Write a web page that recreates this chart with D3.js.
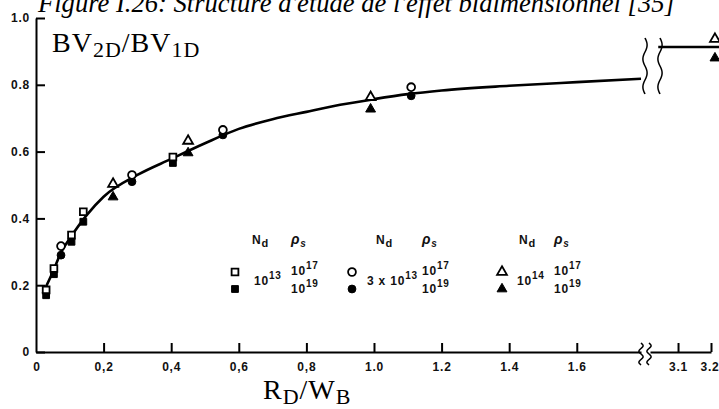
<!DOCTYPE html>
<html>
<head>
<meta charset="utf-8">
<script src="https://cdn.jsdelivr.net/npm/d3@7"></script>
<style>
	body { margin: 0; background: #fff; }
	svg { display: block; }
	.lbl { font-family: "Liberation Sans", Arial, sans-serif; font-weight: bold; font-size: 12px; letter-spacing: 0.8px; fill: #111; }
	.serif { font-family: "Liberation Serif", "Times New Roman", serif; fill: #000; }
</style>
</head>
<body>
<svg id="chart" width="719" height="409"></svg>
<script>
var titleText = "Figure I.26: Structure d'étude de l'effet bidimensionnel [35]";

var yTicks = [0, 0.2, 0.4, 0.6, 0.8, 1.0];
var yTickLabels = ['0', '0.2', '0.4', '0.6', '0.8', '1.0'];
var xTicksLeft = [0.2, 0.4, 0.6, 0.8, 1.0, 1.2, 1.4, 1.6];
var xTickLabelsLeft = ['0,2', '0,4', '0,6', '0,8', '1.0', '1.2', '1.4', '1.6'];
var xTicksRight = [3.1, 3.2];
var xTickLabelsRight = ['3.1', '3.2'];

// smooth curve drawn through the points, up to the axis break
var curveX = [0.02, 0.05, 0.075, 0.1, 0.15, 0.2, 0.3, 0.4, 0.5, 0.6, 0.7, 0.8, 0.9, 1.0, 1.1, 1.2, 1.4, 1.6, 1.79];
var curveY = [0.175, 0.24, 0.3, 0.34, 0.41, 0.465, 0.53, 0.578, 0.625, 0.668, 0.697, 0.719, 0.74, 0.757, 0.772, 0.783, 0.797, 0.808, 0.818];
// level after the break
var plateauX = [3.04, 3.25];
var plateauY = [0.913, 0.913];

// Nd = 1e13 (squares)
var sqX = [0.03, 0.053, 0.105, 0.14, 0.405];
var sqOpenY = [0.186, 0.25, 0.35, 0.42, 0.584];
var sqFilledY = [0.17, 0.233, 0.33, 0.39, 0.566];
// Nd = 3e13 (circles)
var circX = [0.074, 0.284, 0.553, 1.11];
var circOpenY = [0.317, 0.53, 0.665, 0.793];
var circFilledY = [0.29, 0.51, 0.65, 0.767];
// Nd = 1e14 (triangles)
var triX = [0.228, 0.45, 0.99, 3.212];
var triOpenY = [0.503, 0.632, 0.763, 0.937];
var triFilledY = [0.464, 0.596, 0.727, 0.88];

// legend
var legendNdCoef = ['', '3 x ', ''];
var legendNdExp = ['13', '13', '14'];
var legendRhoExp = ['17', '19'];

var svg = d3.select('#chart');

var y = d3.scaleLinear().domain([0, 1]).range([352, 18]);
var xLeft = d3.scaleLinear().domain([0, 1.79]).range([36, 641]);
var xRight = d3.scaleLinear().domain([3.015, 3.2]).range([650, 711]);
var x = function(v) { return v < 2 ? xLeft(v) : xRight(v); };

// title (cut at top of the page)
var title = svg.append('text')
	.attr('class', 'serif')
	.attr('x', 38).attr('y', 12)
	.style('font-style', 'italic')
	.style('font-size', '24px')
	.text(titleText);
var tw = title.node().getComputedTextLength();
title.style('font-size', (24 * 637 / tw) + 'px');

function styleAxis(g) {
	g.select('.domain').attr('stroke', '#000').attr('stroke-width', 2);
	g.selectAll('.tick line').attr('stroke', '#000').attr('stroke-width', 2);
	g.selectAll('.tick text').attr('class', 'lbl');
	g.attr('font-family', null).attr('font-size', null);
}

var yAxis = d3.axisLeft(y)
	.tickValues(yTicks)
	.tickFormat(function(d, i) { return yTickLabels[i]; })
	.tickSizeInner(-9).tickSizeOuter(0).tickPadding(6);
svg.append('g').attr('transform', 'translate(36,0)').call(yAxis).call(styleAxis);

var xAxisL = d3.axisBottom(xLeft)
	.tickValues(xTicksLeft)
	.tickFormat(function(d, i) { return xTickLabelsLeft[i]; })
	.tickSizeInner(-9).tickSizeOuter(0).tickPadding(10);
svg.append('g').attr('transform', 'translate(0,352)').call(xAxisL).call(styleAxis);

var xAxisR = d3.axisBottom(xRight)
	.tickValues(xTicksRight)
	.tickFormat(function(d, i) { return xTickLabelsRight[i]; })
	.tickSizeInner(-9).tickSizeOuter(0).tickPadding(10);
var gR = svg.append('g').attr('transform', 'translate(0,352)').call(xAxisR).call(styleAxis);
// last label sits against the right edge
gR.selectAll('.tick text').filter(function(d) { return d === 3.2; })
	.attr('text-anchor', 'end').attr('dx', 8);

svg.append('text').attr('class', 'lbl')
	.attr('x', xLeft(0) + 1).attr('y', 371).attr('text-anchor', 'middle').text('0');

// break marks
function wavy(x0, y0, y1) {
	var pts = d3.range(0, 1.0001, 1 / 24).map(function(t) {
		return [x0 + 2.2 * Math.sin(t * Math.PI * 4), y0 + (y1 - y0) * t];
	});
	return d3.line().curve(d3.curveBasis)(pts);
}
[[645, 38, 94], [660, 38, 94], [641, 343, 365], [649, 343, 365]].forEach(function(b) {
	svg.append('path').attr('d', wavy(b[0], b[1], b[2]))
		.attr('fill', 'none').attr('stroke', '#000').attr('stroke-width', 1.5);
});

// curve
var line = d3.line().curve(d3.curveMonotoneX)
	.x(function(d) { return x(d[0]); })
	.y(function(d) { return y(d[1]); });
svg.append('path')
	.attr('d', line(d3.zip(curveX, curveY)))
	.attr('fill', 'none').attr('stroke', '#000').attr('stroke-width', 2.6);
svg.append('path')
	.attr('d', line(d3.zip(plateauX, plateauY)))
	.attr('fill', 'none').attr('stroke', '#000').attr('stroke-width', 2.4);

// points
var shapes = {
	square: d3.symbol().type(d3.symbolSquare).size(46),
	circle: d3.symbol().type(d3.symbolCircle).size(48),
	triangle: d3.symbol().type(d3.symbolTriangle).size(42)
};

function drawPoints(xs, ys, shape, filled) {
	svg.append('g').selectAll('path')
		.data(d3.zip(xs, ys))
		.join('path')
		.attr('d', shapes[shape])
		.attr('transform', function(d) { return 'translate(' + x(d[0]) + ',' + y(d[1]) + ')'; })
		.attr('fill', filled ? '#000' : '#fff')
		.attr('stroke', '#000')
		.attr('stroke-width', filled ? 1 : 1.8);
}
drawPoints(sqX, sqFilledY, 'square', true);
drawPoints(sqX, sqOpenY, 'square', false);
drawPoints(circX, circFilledY, 'circle', true);
drawPoints(circX, circOpenY, 'circle', false);
drawPoints(triX, triFilledY, 'triangle', true);
drawPoints(triX, triOpenY, 'triangle', false);

// legend
var legShapes = ['square', 'circle', 'triangle'];
var legMarkerX = [235, 352, 502];
var legNdHeadX = [252, 376, 519];
var legNdValX = [254, 367, 517];
var legRhoX = [291, 422, 554];

legShapes.forEach(function(s, i) {
	[0, 1].forEach(function(r) {
		svg.append('path').attr('d', shapes[s])
			.attr('transform', 'translate(' + legMarkerX[i] + ',' + (272 + r * 17) + ')')
			.attr('fill', r ? '#000' : '#fff').attr('stroke', '#000').attr('stroke-width', r ? 1 : 1.8);
	});

	var h = svg.append('text').attr('class', 'lbl').attr('x', legNdHeadX[i]).attr('y', 244);
	h.append('tspan').text('N');
	h.append('tspan').attr('dy', 3).style('font-size', '11px').text('d');

	var p = svg.append('text').attr('class', 'lbl').attr('x', legRhoX[i]).attr('y', 244)
		.style('font-style', 'italic');
	p.append('tspan').style('font-size', '14px').text('ρ');
	p.append('tspan').attr('dy', 3).style('font-size', '10px').text('s');

	var n = svg.append('text').attr('class', 'lbl').attr('x', legNdValX[i]).attr('y', 285);
	n.append('tspan').text(legendNdCoef[i] + '10');
	n.append('tspan').attr('dy', -6).style('font-size', '10px').text(legendNdExp[i]);

	legendRhoExp.forEach(function(e, r) {
		var t = svg.append('text').attr('class', 'lbl').attr('x', legRhoX[i]).attr('y', 275 + r * 18);
		t.append('tspan').text('10');
		t.append('tspan').attr('dy', -6).style('font-size', '10px').text(e);
	});
});

// axis titles
function axisTitle(xPos, yPos, a, aSub, b, bSub) {
	var t = svg.append('text').attr('class', 'serif').attr('x', xPos).attr('y', yPos)
		.style('font-size', '28px').style('letter-spacing', '1px');
	t.append('tspan').text(a);
	t.append('tspan').attr('dy', 5).style('font-size', '22px').text(aSub);
	t.append('tspan').attr('dy', -5).text(b);
	t.append('tspan').attr('dy', 5).style('font-size', '22px').text(bSub);
	return t;
}
axisTitle(52, 52, 'BV', '2D', '/BV', '1D');
axisTitle(263, 399, 'R', 'D', '/W', 'B');
</script>
</body>
</html>
